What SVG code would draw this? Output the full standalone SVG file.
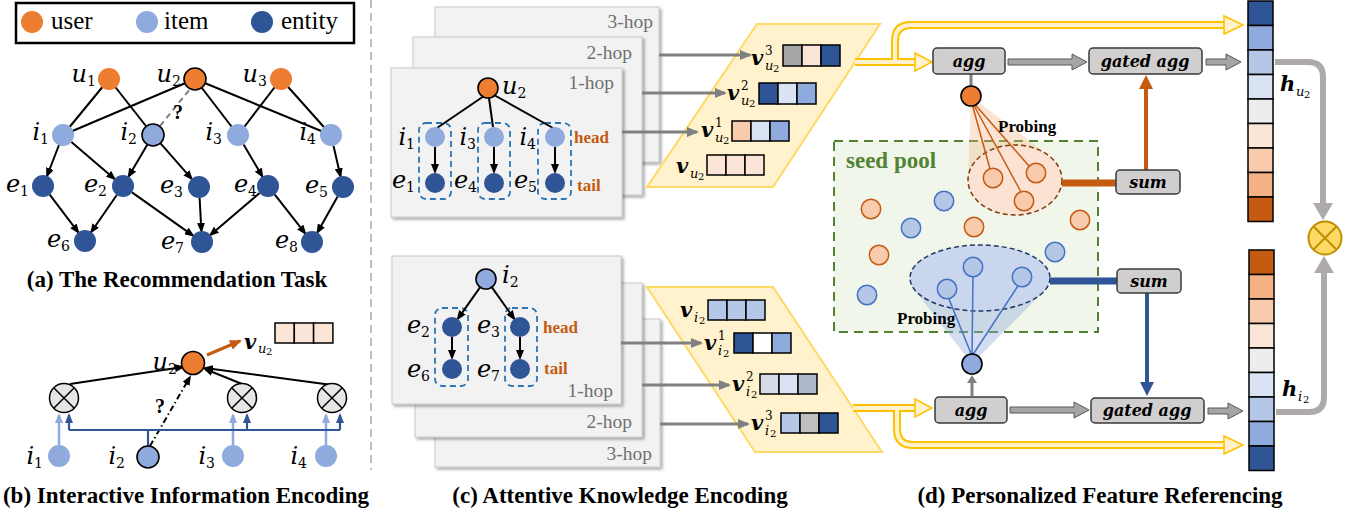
<svg xmlns="http://www.w3.org/2000/svg" width="1364" height="519" viewBox="0 0 1364 519">
<defs>
<style>
.cap{font-family:"Liberation Serif","Times New Roman",Tinos,"Nimbus Roman","DejaVu Serif",serif;font-weight:bold;font-size:23px;text-anchor:middle;fill:#000}
.leg{font-family:"Liberation Serif","Times New Roman",Tinos,"Nimbus Roman","DejaVu Serif",serif;font-size:25px}
.m{font-family:"DejaVu Serif",serif;font-style:italic;font-size:24px}
.ms{font-size:14px;font-style:normal}
.vb{font-family:"DejaVu Serif",serif;font-style:italic;font-weight:bold;font-size:21px}
.sp{font-size:12px;font-weight:normal;font-style:normal}
.su{font-size:13px;font-weight:normal}
.s2{font-size:10px;font-weight:normal;font-style:normal}
.user{fill:#ED7D31}
.item{fill:#8FAADC}
.ent{fill:#2F5597}
.hl{stroke:#000;stroke-width:1.6}
.edge{stroke:#000;stroke-width:2;fill:none}
.arr{stroke:#000;stroke-width:2;fill:none;marker-end:url(#ab)}
.panel{fill:#F2F2F2;stroke:#C8C8C8;stroke-width:1;filter:url(#sh)}
.hop{font-family:"Liberation Serif","Times New Roman",Tinos,"Nimbus Roman","DejaVu Serif",serif;font-size:19.5px;fill:#707070}
.dbox{fill:none;stroke:#2E75B6;stroke-width:1.8;stroke-dasharray:6,4}
.ht{font-family:"Liberation Serif","Times New Roman",Tinos,"Nimbus Roman","DejaVu Serif",serif;font-weight:bold;font-size:17px;fill:#C55A11}
.garr{stroke:#808080;stroke-width:3;marker-end:url(#ag)}
.cell{stroke:#000;stroke-width:1.5}
.box{fill:#D0CECE;stroke:#3A3A3A;stroke-width:1.5}
.bt{font-family:"DejaVu Serif",serif;font-style:italic;font-weight:bold;font-size:16px;text-anchor:middle}
.so{fill:#F8CBAD;stroke:#C55A11;stroke-width:1.5}
.sb{fill:#B4C7E7;stroke:#4472C4;stroke-width:1.5}
.ga{fill:#A5A5A5;stroke:#595959;stroke-width:1}
.yo{stroke:#FFC000;stroke-width:8;fill:none}
.yi{stroke:#FFF2CC;stroke-width:4;fill:none}
.yh{fill:#FFF2CC;stroke:#FFC000;stroke-width:1.5}
.ox{stroke:#000;stroke-width:1.5}
.pb{font-family:"Liberation Serif","Times New Roman",Tinos,"Nimbus Roman","DejaVu Serif",serif;font-weight:bold;font-size:17px}
.q{font-family:"Liberation Serif","Times New Roman",Tinos,"Nimbus Roman","DejaVu Serif",serif;font-weight:bold;font-size:20px}
.sp-t{font-family:"Liberation Serif","Times New Roman",Tinos,"Nimbus Roman","DejaVu Serif",serif;font-weight:bold;font-size:23px;fill:#548235}
</style>
<filter id="sh" x="-5%" y="-5%" width="115%" height="115%"><feDropShadow dx="2" dy="2" stdDeviation="1.5" flood-color="#000" flood-opacity="0.35"/></filter>
<marker id="ab" viewBox="0 0 10 8" refX="8" refY="4" markerWidth="10" markerHeight="8" markerUnits="userSpaceOnUse" orient="auto"><path d="M0,0 L10,4 L0,8 z" fill="#000"/></marker>
<marker id="alb" viewBox="0 0 10 8" refX="8" refY="4" markerWidth="10" markerHeight="8" markerUnits="userSpaceOnUse" orient="auto"><path d="M0,0 L10,4 L0,8 z" fill="#8FAADC"/></marker>
<marker id="adb" viewBox="0 0 10 8" refX="8" refY="4" markerWidth="10" markerHeight="8" markerUnits="userSpaceOnUse" orient="auto"><path d="M0,0 L10,4 L0,8 z" fill="#2F5597"/></marker>
<marker id="aor" viewBox="0 0 12 10" refX="10" refY="5" markerWidth="12" markerHeight="10" markerUnits="userSpaceOnUse" orient="auto"><path d="M0,0 L12,5 L0,10 z" fill="#C55A11"/></marker>
<marker id="ag" viewBox="0 0 12 10" refX="10" refY="5" markerWidth="12" markerHeight="10" markerUnits="userSpaceOnUse" orient="auto"><path d="M0,0 L12,5 L0,10 z" fill="#808080"/></marker>
</defs>
<rect width="1364" height="519" fill="#fff"/>

<!-- separator -->
<line x1="371" y1="0" x2="371" y2="470" stroke="#A6A6A6" stroke-width="1.5" stroke-dasharray="8,5"/>

<!-- legend -->
<g id="legend">
<rect x="16" y="3" width="338" height="40" fill="#fff" stroke="#000" stroke-width="2.5"/>
<circle cx="32" cy="22" r="11" class="user"/>
<text x="51" y="29" class="leg">user</text>
<circle cx="147" cy="22" r="11" class="item"/>
<text x="164" y="29" class="leg">item</text>
<circle cx="262" cy="22" r="11" class="ent"/>
<text x="281" y="29" class="leg">entity</text>
</g>

<!-- (a) connectors -->
<g id="a-connectors">
<line class="edge" x1="109" y1="79" x2="63" y2="135"/>
<line class="edge" x1="109" y1="79" x2="153" y2="135"/>
<line class="edge" x1="195" y1="79" x2="63" y2="135"/>
<line class="edge" x1="195" y1="79" x2="238" y2="135"/>
<line class="edge" x1="195" y1="79" x2="331" y2="135"/>
<line class="edge" x1="281" y1="79" x2="238" y2="135"/>
<line class="edge" x1="281" y1="79" x2="331" y2="135"/>
<line x1="160" y1="126" x2="190" y2="89" stroke="#7F7F7F" stroke-width="2" stroke-dasharray="6,4"/>
<line class="arr" x1="59" y1="145" x2="47" y2="176"/>
<line class="arr" x1="71.4" y1="142" x2="114.6" y2="179"/>
<line class="arr" x1="147.4" y1="144.5" x2="128.6" y2="176.5"/>
<line class="arr" x1="160.3" y1="143.2" x2="191.7" y2="178.8"/>
<line class="arr" x1="243.6" y1="144.5" x2="262.4" y2="176.5"/>
<line class="arr" x1="333.5" y1="145.7" x2="340.5" y2="176.3"/>
<line class="arr" x1="49.7" y1="194.7" x2="78.3" y2="232.3"/>
<line class="arr" x1="116.8" y1="195" x2="91.2" y2="232"/>
<line class="arr" x1="132" y1="192.4" x2="193" y2="235.6"/>
<line class="arr" x1="199.6" y1="198" x2="201.4" y2="231"/>
<line class="arr" x1="259.6" y1="193.1" x2="210.4" y2="234.9"/>
<line class="arr" x1="274.8" y1="194.6" x2="305.2" y2="233.4"/>
<line class="arr" x1="337.6" y1="196.6" x2="317.4" y2="232.4"/>
<text x="173" y="119" class="q">?</text>
</g>

<!-- (a) nodes -->
<g id="a-u1"><circle cx="109" cy="79" r="11" class="user"/><text x="96" y="82" class="m" text-anchor="end">u<tspan class="ms" dy="4">1</tspan></text></g>
<g id="a-u2"><circle cx="195" cy="79" r="11" class="user hl"/><text x="181" y="82" class="m" text-anchor="end">u<tspan class="ms" dy="4">2</tspan></text></g>
<g id="a-u3"><circle cx="281" cy="79" r="11" class="user"/><text x="267" y="82" class="m" text-anchor="end">u<tspan class="ms" dy="4">3</tspan></text></g>
<g id="a-i1"><circle cx="63" cy="135" r="11" class="item"/><text x="49" y="140" class="m" text-anchor="end">i<tspan class="ms" dy="4">1</tspan></text></g>
<g id="a-i2"><circle cx="153" cy="135" r="11" class="item hl"/><text x="137" y="140" class="m" text-anchor="end">i<tspan class="ms" dy="4">2</tspan></text></g>
<g id="a-i3"><circle cx="238" cy="135" r="11" class="item"/><text x="222" y="140" class="m" text-anchor="end">i<tspan class="ms" dy="4">3</tspan></text></g>
<g id="a-i4"><circle cx="331" cy="135" r="11" class="item"/><text x="316" y="140" class="m" text-anchor="end">i<tspan class="ms" dy="4">4</tspan></text></g>
<g id="a-e1"><circle cx="43" cy="186" r="11" class="ent"/><text x="29" y="192" class="m" text-anchor="end">e<tspan class="ms" dy="4">1</tspan></text></g>
<g id="a-e2"><circle cx="123" cy="186" r="11" class="ent"/><text x="107" y="192" class="m" text-anchor="end">e<tspan class="ms" dy="4">2</tspan></text></g>
<g id="a-e3"><circle cx="199" cy="187" r="11" class="ent"/><text x="183" y="193" class="m" text-anchor="end">e<tspan class="ms" dy="4">3</tspan></text></g>
<g id="a-e4"><circle cx="268" cy="186" r="11" class="ent"/><text x="257" y="192" class="m" text-anchor="end">e<tspan class="ms" dy="4">4</tspan></text></g>
<g id="a-e5"><circle cx="343" cy="187" r="11" class="ent"/><text x="328" y="193" class="m" text-anchor="end">e<tspan class="ms" dy="4">5</tspan></text></g>
<g id="a-e6"><circle cx="85" cy="241" r="11" class="ent"/><text x="70" y="247" class="m" text-anchor="end">e<tspan class="ms" dy="4">6</tspan></text></g>
<g id="a-e7"><circle cx="202" cy="242" r="11" class="ent"/><text x="184" y="249" class="m" text-anchor="end">e<tspan class="ms" dy="4">7</tspan></text></g>
<g id="a-e8"><circle cx="312" cy="242" r="11" class="ent"/><text x="298" y="248" class="m" text-anchor="end">e<tspan class="ms" dy="4">8</tspan></text></g>
<text class="cap" x="177" y="287">(a) The Recommendation Task</text>

<!-- (b) connectors -->
<g id="b-connectors">
<line x1="207" y1="355" x2="240" y2="341" stroke="#C55A11" stroke-width="3" marker-end="url(#aor)"/>
<line class="arr" x1="70" y1="384" x2="183" y2="367"/>
<line class="arr" x1="242" y1="384" x2="205" y2="369"/>
<line class="arr" x1="332" y1="385" x2="205" y2="368"/>
<line x1="150" y1="446" x2="190" y2="377" stroke="#000" stroke-width="2" stroke-dasharray="6,3,1.5,3" marker-end="url(#ab)"/>
<text x="155" y="413" class="q">?</text>
<g stroke="#8FAADC" stroke-width="2.5" marker-end="url(#alb)">
<line x1="59" y1="445" x2="59" y2="415"/>
<line x1="233" y1="445" x2="233" y2="415"/>
<line x1="326" y1="445" x2="326" y2="415"/>
</g>
<g stroke="#2F5597" stroke-width="2.2" fill="none">
<polyline points="69,430 340,430"/>
<line x1="148" y1="446" x2="148" y2="430"/>
<line x1="69" y1="430" x2="69" y2="415" marker-end="url(#adb)"/>
<line x1="247" y1="430" x2="247" y2="415" marker-end="url(#adb)"/>
<line x1="340" y1="430" x2="340" y2="415" marker-end="url(#adb)"/>
</g>
</g>

<!-- (b) nodes -->
<g id="b-u2"><circle cx="193" cy="363" r="11.5" class="user hl"/><text x="177" y="370" class="m" text-anchor="end">u<tspan class="ms" dy="4">2</tspan></text></g>
<g id="b-vu2">
<text class="vb" x="244" y="349">v<tspan class="su" x="258" y="353">u</tspan><tspan class="s2" x="266" y="355">2</tspan></text>
<rect class="cell" x="275" y="323" width="19.3" height="20" fill="#FBE5D6"/>
<rect class="cell" x="294.3" y="323" width="19.3" height="20" fill="#FBE5D6"/>
<rect class="cell" x="313.6" y="323" width="19.3" height="20" fill="#FBE5D6"/>
</g>
<g id="b-ot1"><circle cx="64" cy="398" r="14.5" fill="#E7E6E6" class="ox"/><line class="ox" x1="53.7" y1="387.7" x2="74.3" y2="408.3"/><line class="ox" x1="74.3" y1="387.7" x2="53.7" y2="408.3"/></g>
<g id="b-ot2"><circle cx="242" cy="398" r="14.5" fill="#E7E6E6" class="ox"/><line class="ox" x1="231.7" y1="387.7" x2="252.3" y2="408.3"/><line class="ox" x1="252.3" y1="387.7" x2="231.7" y2="408.3"/></g>
<g id="b-ot3"><circle cx="332" cy="398" r="14.5" fill="#E7E6E6" class="ox"/><line class="ox" x1="321.7" y1="387.7" x2="342.3" y2="408.3"/><line class="ox" x1="342.3" y1="387.7" x2="321.7" y2="408.3"/></g>
<g id="b-i1"><circle cx="59" cy="456" r="11" class="item"/><text x="43" y="464" class="m" text-anchor="end">i<tspan class="ms" dy="4">1</tspan></text></g>
<g id="b-i2"><circle cx="148" cy="457" r="11" class="item hl"/><text x="125" y="464" class="m" text-anchor="end">i<tspan class="ms" dy="4">2</tspan></text></g>
<g id="b-i3"><circle cx="233" cy="456" r="11" class="item"/><text x="215" y="464" class="m" text-anchor="end">i<tspan class="ms" dy="4">3</tspan></text></g>
<g id="b-i4"><circle cx="326" cy="456" r="11" class="item"/><text x="307" y="464" class="m" text-anchor="end">i<tspan class="ms" dy="4">4</tspan></text></g>
<text class="cap" x="186" y="503">(b) Interactive Information Encoding</text>

<!-- (c) top panels -->
<g id="c-top-3hop"><rect class="panel" x="435" y="7" width="224" height="155"/><text class="hop" x="653" y="28" text-anchor="end">3-hop</text></g>
<g id="c-top-2hop"><rect class="panel" x="413" y="37" width="229" height="158"/><text class="hop" x="632" y="59" text-anchor="end">2-hop</text></g>
<g id="c-top-1hop"><rect class="panel" x="391" y="68" width="231" height="149"/><text class="hop" x="614" y="89" text-anchor="end">1-hop</text>
<rect class="dbox" x="419" y="123" width="32" height="76" rx="7"/>
<rect class="dbox" x="478" y="123" width="32" height="76" rx="7"/>
<rect class="dbox" x="538" y="123" width="33" height="76" rx="7"/>
<line class="edge" x1="484" y1="96" x2="437" y2="128" stroke-width="1.8"/>
<line class="edge" x1="489" y1="98" x2="493" y2="127" stroke-width="1.8"/>
<line class="edge" x1="494" y1="95" x2="553" y2="128" stroke-width="1.8"/>
<line class="arr" x1="435" y1="147" x2="435" y2="172"/>
<line class="arr" x1="494" y1="147" x2="494" y2="172"/>
<line class="arr" x1="555" y1="147" x2="555" y2="172"/>
<circle cx="488" cy="88" r="10" class="user hl"/>
<text x="502" y="94" class="m">u<tspan class="ms" dy="4">2</tspan></text>
<circle cx="435" cy="137" r="10" class="item"/><text x="415" y="145" class="m" text-anchor="end">i<tspan class="ms" dy="4">1</tspan></text>
<circle cx="494" cy="137" r="10" class="item"/><text x="476" y="145" class="m" text-anchor="end">i<tspan class="ms" dy="4">3</tspan></text>
<circle cx="555" cy="137" r="10" class="item"/><text x="536" y="145" class="m" text-anchor="end">i<tspan class="ms" dy="4">4</tspan></text>
<circle cx="435" cy="183" r="10" class="ent"/><text x="415" y="188" class="m" text-anchor="end">e<tspan class="ms" dy="4">1</tspan></text>
<circle cx="494" cy="183" r="10" class="ent"/><text x="477" y="188" class="m" text-anchor="end">e<tspan class="ms" dy="4">4</tspan></text>
<circle cx="555" cy="183" r="10" class="ent"/><text x="537" y="188" class="m" text-anchor="end">e<tspan class="ms" dy="4">5</tspan></text>
<text class="ht" x="574" y="143">head</text>
<text class="ht" x="577" y="191">tail</text>
</g>

<!-- (c) bottom panels -->
<g id="c-bot-3hop"><rect class="panel" x="435" y="319" width="225" height="148"/><text class="hop" x="652" y="460" text-anchor="end">3-hop</text></g>
<g id="c-bot-2hop"><rect class="panel" x="415" y="283" width="227" height="154"/><text class="hop" x="632" y="428" text-anchor="end">2-hop</text></g>
<g id="c-bot-1hop"><rect class="panel" x="392" y="256" width="229" height="148"/><text class="hop" x="613" y="397" text-anchor="end">1-hop</text>
<rect class="dbox" x="435" y="308" width="33" height="78" rx="7"/>
<rect class="dbox" x="505" y="308" width="32" height="78" rx="7"/>
<line class="arr" x1="480.2" y1="287.2" x2="457.8" y2="318.8"/>
<line class="arr" x1="491.8" y1="287.2" x2="514.2" y2="318.8"/>
<line class="arr" x1="452" y1="337" x2="452" y2="358"/>
<line class="arr" x1="520" y1="337" x2="520" y2="358"/>
<circle cx="486" cy="279" r="10" class="item hl"/>
<text x="502" y="283" class="m">i<tspan class="ms" dy="4">2</tspan></text>
<circle cx="452" cy="327" r="10" class="ent"/><text x="430" y="333" class="m" text-anchor="end">e<tspan class="ms" dy="4">2</tspan></text>
<circle cx="520" cy="327" r="10" class="ent"/><text x="500" y="333" class="m" text-anchor="end">e<tspan class="ms" dy="4">3</tspan></text>
<circle cx="452" cy="369" r="10" class="ent"/><text x="430" y="377" class="m" text-anchor="end">e<tspan class="ms" dy="4">6</tspan></text>
<circle cx="520" cy="369" r="10" class="ent"/><text x="500" y="377" class="m" text-anchor="end">e<tspan class="ms" dy="4">7</tspan></text>
<text class="ht" x="543" y="333">head</text>
<text class="ht" x="544" y="374">tail</text>
</g>

<!-- parallelograms -->
<g id="c-user-vectors">
<polygon points="757,24 880,24 773,187 647,187" fill="#FFF2CC" stroke="#FFD966" stroke-width="2"/>
<text class="vb" x="751" y="65">v<tspan class="sp" x="765" y="55">3</tspan><tspan class="su" x="765" y="70">u</tspan><tspan class="s2" x="773" y="72">2</tspan></text>
<rect class="cell" x="783" y="45" width="19" height="21" fill="#A6A6A6"/><rect class="cell" x="802" y="45" width="19" height="21" fill="#FBE5D6"/><rect class="cell" x="821" y="45" width="19" height="21" fill="#2F5597"/>
<text class="vb" x="727" y="100">v<tspan class="sp" x="741" y="90">2</tspan><tspan class="su" x="741" y="105">u</tspan><tspan class="s2" x="749" y="107">2</tspan></text>
<rect class="cell" x="759" y="83" width="19" height="21" fill="#2F5597"/><rect class="cell" x="778" y="83" width="19" height="21" fill="#DAE3F3"/><rect class="cell" x="797" y="83" width="19" height="21" fill="#8FAADC"/>
<text class="vb" x="701" y="137">v<tspan class="sp" x="715" y="127">1</tspan><tspan class="su" x="715" y="142">u</tspan><tspan class="s2" x="723" y="144">2</tspan></text>
<rect class="cell" x="732" y="121" width="19" height="20" fill="#F8CBAD"/><rect class="cell" x="751" y="121" width="19" height="20" fill="#DAE3F3"/><rect class="cell" x="770" y="121" width="19" height="20" fill="#8FAADC"/>
<text class="vb" x="676" y="173">v<tspan class="su" x="690" y="178">u</tspan><tspan class="s2" x="698" y="180">2</tspan></text>
<rect class="cell" x="707" y="155" width="19" height="20" fill="#FBE5D6"/><rect class="cell" x="726" y="155" width="19" height="20" fill="#FBE5D6"/><rect class="cell" x="745" y="155" width="19" height="20" fill="#FBE5D6"/>
</g>
<g id="c-item-vectors">
<polygon points="647,287 773,287 882,452 755,452" fill="#FFF2CC" stroke="#FFD966" stroke-width="2"/>
<text class="vb" x="680" y="317">v<tspan class="su" x="694" y="322">i</tspan><tspan class="s2" x="699" y="324">2</tspan></text>
<rect class="cell" x="708" y="300" width="19" height="20" fill="#B4C7E7"/><rect class="cell" x="727" y="300" width="19" height="20" fill="#B4C7E7"/><rect class="cell" x="746" y="300" width="19" height="20" fill="#B4C7E7"/>
<text class="vb" x="704" y="350">v<tspan class="sp" x="718" y="340">1</tspan><tspan class="su" x="718" y="355">i</tspan><tspan class="s2" x="723" y="357">2</tspan></text>
<rect class="cell" x="734" y="333" width="19" height="20" fill="#2F5597"/><rect class="cell" x="753" y="333" width="19" height="20" fill="#FFFFFF"/><rect class="cell" x="772" y="333" width="19" height="20" fill="#8FAADC"/>
<text class="vb" x="732" y="391">v<tspan class="sp" x="746" y="381">2</tspan><tspan class="su" x="746" y="396">i</tspan><tspan class="s2" x="751" y="398">2</tspan></text>
<rect class="cell" x="760" y="374" width="19" height="20" fill="#D6DCE5"/><rect class="cell" x="779" y="374" width="19" height="20" fill="#DAE3F3"/><rect class="cell" x="798" y="374" width="19" height="20" fill="#ADB9CA"/>
<text class="vb" x="751" y="430">v<tspan class="sp" x="765" y="420">3</tspan><tspan class="su" x="765" y="435">i</tspan><tspan class="s2" x="770" y="437">2</tspan></text>
<rect class="cell" x="781" y="413" width="19" height="20" fill="#B4C7E7"/><rect class="cell" x="800" y="413" width="19" height="20" fill="#BFBFBF"/><rect class="cell" x="819" y="413" width="19" height="20" fill="#2F5597"/>
</g>

<!-- (c) connectors -->
<g id="c-connectors">
<line class="garr" x1="659" y1="55" x2="750" y2="55"/>
<line class="garr" x1="642" y1="93" x2="725" y2="93"/>
<line class="garr" x1="622" y1="132" x2="697" y2="132"/>
<line class="garr" x1="621" y1="343" x2="701" y2="343"/>
<line class="garr" x1="642" y1="385" x2="729" y2="385"/>
<line class="garr" x1="660" y1="424" x2="748" y2="424"/>
</g>
<text class="cap" x="620" y="503">(c) Attentive Knowledge Encoding</text>

<!-- (d) seed pool -->
<g id="d-seedpool">
<rect x="834" y="141" width="264" height="191" fill="#F0F7EA" stroke="#548235" stroke-width="2" stroke-dasharray="9,6"/>
<text x="846" y="168" class="sp-t">seed pool</text>
<circle class="so" cx="871" cy="209" r="9.7"/>
<circle class="so" cx="974" cy="227" r="9.7"/>
<circle class="so" cx="879" cy="255" r="9.7"/>
<circle class="so" cx="1080" cy="220" r="9.7"/>
<circle class="sb" cx="944" cy="201" r="9.7"/>
<circle class="sb" cx="911" cy="228" r="9.7"/>
<circle class="sb" cx="1055" cy="252" r="9.7"/>
<circle class="sb" cx="867" cy="295" r="9.7"/>
</g>

<!-- (d) user probing -->
<g id="d-user-probe">
<polygon points="971,96 968,179 1049,156" fill="#F4B183" fill-opacity="0.35"/>
<ellipse cx="1015" cy="180" rx="47" ry="35" fill="#FBE2D3" stroke="#843C0C" stroke-width="1.5" stroke-dasharray="5,3"/>
<g stroke="#C55A11" stroke-width="1.5">
<line x1="971" y1="100" x2="990" y2="169"/>
<line x1="971" y1="100" x2="1021" y2="192"/>
<line x1="971" y1="100" x2="1029" y2="166"/>
</g>
<circle class="so" cx="993" cy="178" r="9.7"/>
<circle class="so" cx="1036" cy="173" r="9.7"/>
<circle class="so" cx="1024" cy="201" r="9.7"/>
<line x1="971" y1="74" x2="971" y2="86" stroke="#7F7F7F" stroke-width="3"/>
<circle cx="971" cy="96" r="10" class="user hl"/>
<text class="pb" x="998" y="132">Probing</text>
</g>

<!-- (d) item probing -->
<g id="d-item-probe">
<polygon points="972,364 914,289 1043,292" fill="#8FAADC" fill-opacity="0.4"/>
<ellipse cx="980" cy="278" rx="70" ry="33" fill="#C9D6EE" stroke="#203864" stroke-width="1.5" stroke-dasharray="5,3"/>
<g stroke="#4472C4" stroke-width="1.5">
<line x1="972" y1="356" x2="949" y2="299"/>
<line x1="972" y1="356" x2="973" y2="277"/>
<line x1="972" y1="356" x2="1018" y2="286"/>
</g>
<circle class="sb" cx="947" cy="289" r="9.7"/>
<circle class="sb" cx="973" cy="267" r="9.7"/>
<circle class="sb" cx="1022" cy="277" r="9.7"/>
<circle cx="972" cy="364" r="10" class="item hl"/>
<text class="pb" x="897" y="324">Probing</text>
</g>

<!-- (d) connectors -->
<g id="d-connectors">
<path class="yo" d="M855 62 L917 62 M895 62 L895 41 Q895 25 911 25 L1226 25"/>
<path class="yi" d="M855 62 L917 62 M895 62 L895 41 Q895 25 911 25 L1226 25"/>
<polygon class="yh" points="915,53 932,62 915,71"/>
<polygon class="yh" points="1224,16 1243,25 1224,34"/>
<path class="yo" d="M853 408 L917 408 M897 408 L897 429 Q897 445 913 445 L1226 445"/>
<path class="yi" d="M853 408 L917 408 M897 408 L897 429 Q897 445 913 445 L1226 445"/>
<polygon class="yh" points="915,399 932,408 915,417"/>
<polygon class="yh" points="1224,436 1243,445 1224,454"/>
<polygon class="ga" points="1008,59 1072,59 1072,54 1087,62 1072,70 1072,65 1008,65"/>
<polygon class="ga" points="1010,407 1074,407 1074,402 1089,410 1074,418 1074,413 1010,413"/>
<polygon class="ga" points="1206,59 1226,59 1226,54 1241,62 1226,70 1226,65 1206,65"/>
<polygon class="ga" points="1208,408 1228,408 1228,403 1243,411 1228,419 1228,414 1208,414"/>
<line x1="1062" y1="183" x2="1116" y2="183" stroke="#C55A11" stroke-width="7"/>
<line x1="1146" y1="170" x2="1146" y2="88" stroke="#C55A11" stroke-width="4"/>
<polygon points="1139,89 1146,75 1153,89" fill="#C55A11"/>
<line x1="1050" y1="281" x2="1117" y2="281" stroke="#2F5597" stroke-width="7"/>
<line x1="1147" y1="293" x2="1147" y2="383" stroke="#2F5597" stroke-width="4"/>
<polygon points="1140,382 1147,396 1154,382" fill="#2F5597"/>
<line x1="972" y1="396" x2="972" y2="382" stroke="#808080" stroke-width="3"/>
<polygon points="967,383 972,375 977,383" fill="#808080"/>
<path d="M1275 62 L1308 62 Q1323 62 1323 77 L1323 205" fill="none" stroke="#AEAAAA" stroke-width="6"/>
<polygon points="1313,203 1323,220 1333,203" fill="#AEAAAA"/>
<path d="M1276 412 L1309 412 Q1324 412 1324 397 L1324 272" fill="none" stroke="#AEAAAA" stroke-width="6"/>
<polygon points="1314,273 1324,256 1334,273" fill="#AEAAAA"/>
</g>

<!-- (d) boxes -->
<g id="d-agg-top"><rect class="box" x="933" y="48" width="72" height="26" rx="4"/><text class="bt" x="969" y="67">agg</text></g>
<g id="d-gated-top"><rect class="box" x="1089" y="48" width="113" height="26" rx="4"/><text class="bt" x="1145" y="67">gated agg</text></g>
<g id="d-sum-top"><rect class="box" x="1116" y="170" width="64" height="24" rx="4"/><text class="bt" x="1148" y="188">sum</text></g>
<g id="d-sum-bot"><rect class="box" x="1117" y="269" width="64" height="24" rx="4"/><text class="bt" x="1149" y="287">sum</text></g>
<g id="d-agg-bot"><rect class="box" x="935" y="397" width="72" height="26" rx="4"/><text class="bt" x="971" y="416">agg</text></g>
<g id="d-gated-bot"><rect class="box" x="1091" y="398" width="113" height="25" rx="4"/><text class="bt" x="1147" y="416">gated agg</text></g>

<!-- (d) columns -->
<g id="d-hu2">
<rect class="cell" x="1248" y="1" width="25" height="24.5" fill="#2F5597"/>
<rect class="cell" x="1248" y="25.5" width="25" height="24.5" fill="#8FAADC"/>
<rect class="cell" x="1248" y="50" width="25" height="24.5" fill="#B4C7E7"/>
<rect class="cell" x="1248" y="74.5" width="25" height="24.5" fill="#DAE3F3"/>
<rect class="cell" x="1248" y="99" width="25" height="24.5" fill="#EDEDED"/>
<rect class="cell" x="1248" y="123.5" width="25" height="24.5" fill="#FBE5D6"/>
<rect class="cell" x="1248" y="148" width="25" height="24.5" fill="#F8CBAD"/>
<rect class="cell" x="1248" y="172.5" width="25" height="24.5" fill="#F4B183"/>
<rect class="cell" x="1248" y="197" width="25" height="24.5" fill="#C55A11"/>
<text class="vb" x="1280" y="91" font-size="22">h<tspan class="su" x="1296" y="96">u</tspan><tspan class="s2" x="1304" y="98">2</tspan></text>
</g>
<g id="d-hi2">
<rect class="cell" x="1249" y="250" width="25" height="24.5" fill="#C55A11"/>
<rect class="cell" x="1249" y="274.5" width="25" height="24.5" fill="#F4B183"/>
<rect class="cell" x="1249" y="299" width="25" height="24.5" fill="#F8CBAD"/>
<rect class="cell" x="1249" y="323.5" width="25" height="24.5" fill="#FBE5D6"/>
<rect class="cell" x="1249" y="348" width="25" height="24.5" fill="#EDEDED"/>
<rect class="cell" x="1249" y="372.5" width="25" height="24.5" fill="#DAE3F3"/>
<rect class="cell" x="1249" y="397" width="25" height="24.5" fill="#B4C7E7"/>
<rect class="cell" x="1249" y="421.5" width="25" height="24.5" fill="#8FAADC"/>
<rect class="cell" x="1249" y="446" width="25" height="24.5" fill="#2F5597"/>
<text class="vb" x="1282" y="396" font-size="22">h<tspan class="su" x="1298" y="401">i</tspan><tspan class="s2" x="1303" y="403">2</tspan></text>
</g>
<g id="d-otimes">
<circle cx="1325" cy="238" r="16.5" fill="#FFD966" stroke="#BF9000" stroke-width="2"/>
<line x1="1313.3" y1="226.3" x2="1336.7" y2="249.7" stroke="#BF9000" stroke-width="2"/>
<line x1="1336.7" y1="226.3" x2="1313.3" y2="249.7" stroke="#BF9000" stroke-width="2"/>
</g>
<text class="cap" x="1100" y="503">(d) Personalized Feature Referencing</text>
</svg>
